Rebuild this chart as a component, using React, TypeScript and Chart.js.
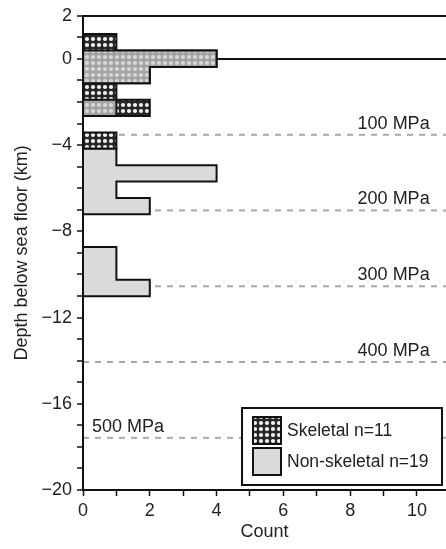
import React, { useEffect, useRef } from 'react';
import { Chart, registerables } from 'chart.js';

Chart.register(...registerables);

// ---- data ----
const depthBinEdges = [1.15, 0.39, -0.37, -1.13, -1.89, -2.65, -3.41, -4.17, -4.93, -5.69, -6.45, -7.21, -7.97, -8.73, -9.49, -10.25, -11.01];
const skeletalCounts = [1, 4, 2, 1, 2, 0, 1, 0, 0, 0, 0, 0, 0, 0, 0, 0];
const nonSkeletalCounts = [0, 4, 2, 0, 1, 0, 0, 1, 4, 1, 2, 0, 0, 1, 1, 2];
const seriesLabels = ['Skeletal n=11', 'Non-skeletal n=19'];
const pressureLabels = ['100 MPa', '200 MPa', '300 MPa', '400 MPa', '500 MPa'];
const pressureDepths = [-3.52, -7.03, -10.55, -14.06, -17.58];
const depthTickValues = [2, 1, 0, -1, -2, -3, -4, -5, -6, -7, -8, -9, -10, -11, -12, -13, -14, -15, -16, -17, -18, -19, -20];
const depthTicksLabeled = [2, 0, -4, -8, -12, -16, -20];
const countTickValues = [0, 1, 2, 3, 4, 5, 6, 7, 8, 9, 10];
const countTicksLabeled = [0, 2, 4, 6, 8, 10];
const seaFloorDepth = 0;

const FONT = '"Liberation Sans", Arial, Helvetica, sans-serif';
const TEXT = '#222';
const COUNT_MAX = 10.87;

function outline(counts: number[]) {
  const first = counts.findIndex((c) => c > 0);
  let last = counts.length - 1;
  while (last >= 0 && counts[last] === 0) last--;
  const pts: { x: number; y: number }[] = [{ x: 0, y: depthBinEdges[first] }];
  for (let i = first; i <= last; i++) {
    pts.push({ x: counts[i], y: depthBinEdges[i] });
    pts.push({ x: counts[i], y: depthBinEdges[i + 1] });
  }
  pts.push({ x: 0, y: depthBinEdges[last + 1] });
  return pts;
}

function makeDots(): CanvasPattern | string {
  const c = document.createElement('canvas');
  c.width = 6;
  c.height = 6;
  const g = c.getContext('2d');
  if (!g) return '#555';
  g.fillStyle = '#262626';
  g.fillRect(0, 0, 6, 6);
  g.fillStyle = '#f2f2f2';
  g.beginPath();
  g.arc(3, 3, 2.1, 0, Math.PI * 2);
  g.fill();
  return g.createPattern(c, 'repeat') || '#555';
}

const fmt = (v: number) => (v < 0 ? '\u2212' + Math.abs(v) : String(v));

export default function App() {
  const ref = useRef<HTMLCanvasElement>(null);

  useEffect(() => {
    if (!ref.current) return;
    const dots = makeDots();
    const nonSkelFill = 'rgba(205,205,205,0.75)';

    const overlayPlugin = {
      id: 'overlayText',
      afterDatasetsDraw(chart: any) {
        const { ctx, scales } = chart;
        const x = scales.x;
        const y = scales.y;
        ctx.save();
        ctx.font = `18px ${FONT}`;
        ctx.fillStyle = TEXT;
        ctx.textBaseline = 'middle';
        pressureLabels.forEach((t, i) => {
          const py = y.getPixelForValue(pressureDepths[i]) - 11;
          const leftSide = i === pressureLabels.length - 1;
          ctx.textAlign = leftSide ? 'left' : 'right';
          ctx.fillText(t, x.getPixelForValue(leftSide ? 0.27 : 10.38), py);
        });
        ctx.restore();
      },
      afterDraw(chart: any) {
        const { ctx, chartArea } = chart;
        const w = 200;
        const h = 77;
        const left = chartArea.right - 4 - w;
        const top = chartArea.bottom - 5 - h;
        ctx.save();
        ctx.fillStyle = '#fff';
        ctx.fillRect(left, top, w, h);
        ctx.lineWidth = 2;
        ctx.strokeStyle = '#111';
        ctx.strokeRect(left, top, w, h);
        const fills = [dots, nonSkelFill];
        fills.forEach((f, i) => {
          const sx = left + 11;
          const sy = top + 9 + i * 31;
          ctx.fillStyle = '#fff';
          ctx.fillRect(sx, sy, 28, 27);
          ctx.fillStyle = f;
          ctx.fillRect(sx, sy, 28, 27);
          ctx.lineWidth = 2;
          ctx.strokeStyle = '#111';
          ctx.strokeRect(sx, sy, 28, 27);
          ctx.font = `17.5px ${FONT}`;
          ctx.fillStyle = TEXT;
          ctx.textAlign = 'left';
          ctx.textBaseline = 'middle';
          ctx.fillText(seriesLabels[i], sx + 34, sy + 14);
        });
        ctx.restore();
      },
    };

    const pressureSets = pressureDepths.map((d) => ({
      label: '',
      data: [
        { x: 0, y: d },
        { x: COUNT_MAX, y: d },
      ],
      borderColor: '#a8a8a8',
      borderWidth: 2,
      borderDash: [6, 6],
      pointRadius: 0,
      fill: false,
      order: 8,
    }));

    const chart = new Chart(ref.current, {
      type: 'line',
      data: {
        datasets: [
          {
            label: seriesLabels[0],
            data: outline(skeletalCounts),
            borderColor: '#111',
            borderWidth: 2,
            backgroundColor: dots as any,
            fill: 'origin',
            pointRadius: 0,
            order: 3,
          },
          {
            label: seriesLabels[1],
            data: outline(nonSkeletalCounts),
            borderColor: '#111',
            borderWidth: 2,
            backgroundColor: nonSkelFill,
            fill: 'origin',
            pointRadius: 0,
            order: 1,
          },
          {
            label: '',
            data: outline(nonSkeletalCounts),
            borderColor: 'rgba(0,0,0,0)',
            borderWidth: 0,
            backgroundColor: '#fff',
            fill: 'origin',
            pointRadius: 0,
            order: 5,
          },
          ...pressureSets,
        ] as any,
      },
      options: {
        indexAxis: 'y',
        responsive: false,
        animation: false,
        devicePixelRatio: 1,
        layout: { padding: { top: 15, right: 0, bottom: 0, left: 0 } },
        plugins: {
          legend: { display: false },
          tooltip: { enabled: false },
        },
        scales: {
          x: {
            type: 'linear',
            position: 'bottom',
            min: 0,
            max: COUNT_MAX,
            afterBuildTicks: (s: any) => {
              s.ticks = countTickValues.map((v) => ({ value: v }));
            },
            afterFit: (s: any) => {
              s.height = 59;
            },
            ticks: {
              autoSkip: false,
              maxRotation: 0,
              padding: 4,
              color: TEXT,
              font: { family: FONT, size: 18 },
              callback: (v: any) => (countTicksLabeled.includes(Number(v)) ? fmt(Number(v)) : ''),
            },
            grid: {
              drawOnChartArea: false,
              color: 'rgba(0,0,0,0)',
              tickColor: '#111',
              tickLength: 6,
              tickWidth: 1.5,
            },
            border: { color: '#111', width: 2, z: 1 },
            title: {
              display: true,
              text: 'Count',
              color: TEXT,
              font: { family: FONT, size: 18 },
              padding: { top: 0, bottom: 6 },
            },
          },
          y: {
            type: 'linear',
            position: 'left',
            min: -20,
            max: 2,
            afterBuildTicks: (s: any) => {
              s.ticks = depthTickValues.map((v) => ({ value: v }));
            },
            afterFit: (s: any) => {
              s.width = 83;
            },
            ticks: {
              autoSkip: false,
              padding: 5,
              color: TEXT,
              font: { family: FONT, size: 18 },
              callback: (v: any) => (depthTicksLabeled.includes(Number(v)) ? fmt(Number(v)) : ''),
            },
            grid: {
              drawOnChartArea: true,
              color: (c: any) =>
                c.tick && (c.tick.value === seaFloorDepth || c.tick.value === depthTickValues[0]) ? '#111' : 'rgba(0,0,0,0)',
              lineWidth: 2,
              tickColor: '#111',
              tickLength: 6,
              tickWidth: 1.5,
            },
            border: { color: '#111', width: 2, z: 1 },
            title: {
              display: true,
              text: 'Depth below sea floor (km)',
              color: TEXT,
              font: { family: FONT, size: 18 },
              padding: { top: 11, bottom: 0 },
            },
          },
        },
      } as any,
      plugins: [overlayPlugin],
    });
    return () => chart.destroy();
  }, []);

  return (
    <div style={{ position: 'absolute', left: 0, top: 0, width: 446, height: 549, background: '#fff' }}>
      <canvas ref={ref} width={446} height={549} style={{ display: 'block', width: 446, height: 549 }} />
    </div>
  );
}
